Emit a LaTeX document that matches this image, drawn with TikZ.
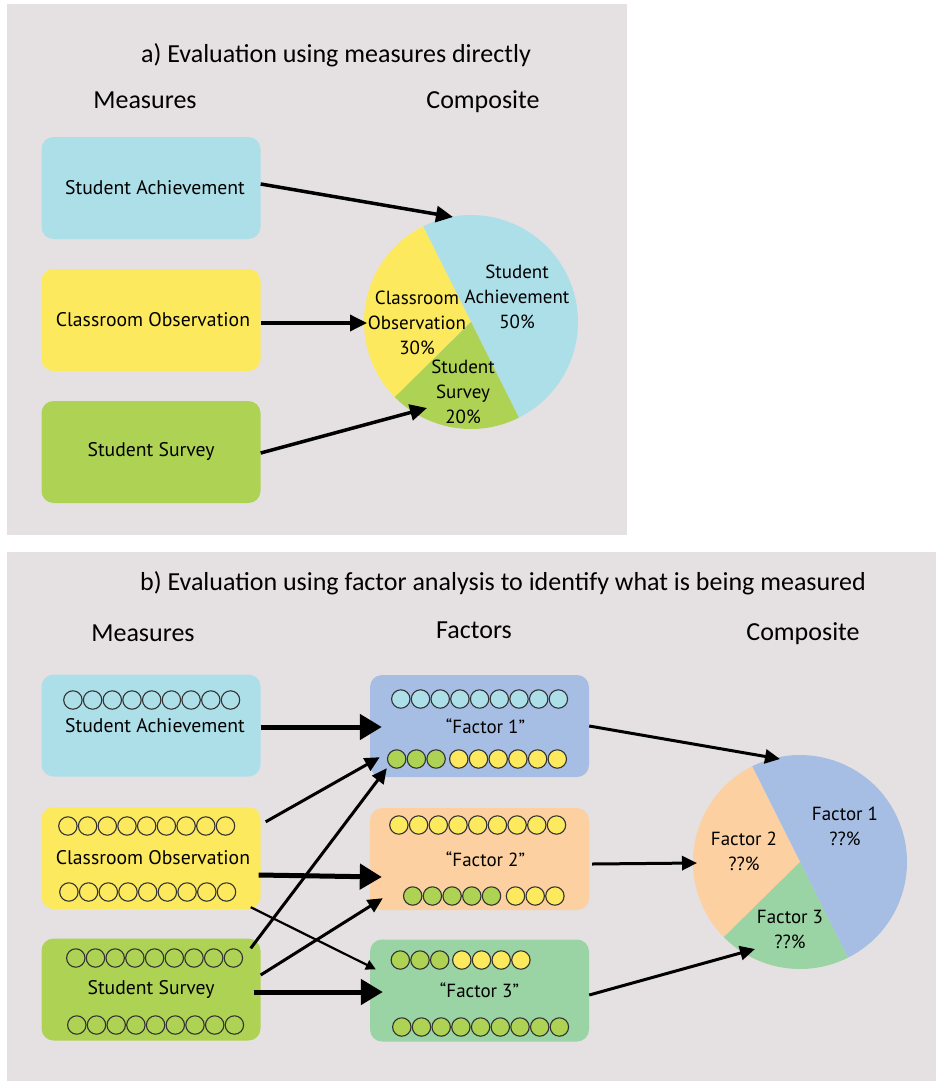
\documentclass[tikz,border=0pt]{standalone}
\usepackage{fontspec}
\setmainfont{PT Sans}
\newfontfamily\headfont{Carlito}
\usetikzlibrary{arrows.meta}

\definecolor{panelbg}{HTML}{E5E1E2}
\definecolor{achblue}{HTML}{ADDFE9}
\definecolor{obsyellow}{HTML}{FCE95D}
\definecolor{survgreen}{HTML}{AED253}
\definecolor{fonecol}{HTML}{A6BEE3}
\definecolor{ftwocol}{HTML}{FCD0A0}
\definecolor{fthreecol}{HTML}{9AD3A4}

% first x, y, how many, fill
\newcommand{\dotrow}[4]{%
  \foreach \k in {1,...,#3}
    \filldraw[dot,fill=#4] ({#1+(\k-1)*19.7},#2) circle[radius=9.2];}

\begin{document}
\begin{tikzpicture}[x=1pt,y=1pt]
  \tikzset{
    measbox/.style={rounded corners=12pt,minimum width=219pt,minimum height=102pt,
      inner sep=0pt,font=\fontsize{19.7}{23}\selectfont},
    factbox/.style={measbox,font=\fontsize{19}{23}\selectfont},
    head/.style={font=\headfont\fontsize{26}{30}\selectfont},
    pielabel/.style={align=center,font=\fontsize{19}{25}\selectfont},
    dot/.style={draw=black!80,line width=1.1pt},
    arr/.style={-{Triangle[length=17pt,width=16pt]},line width=3.5pt},
    fatarr/.style={-{Triangle[length=22pt,width=25pt]},line width=5pt},
    thinarr/.style={-{Triangle[length=15pt,width=14pt]},line width=3pt},
    slimarr/.style={-{Triangle[length=10pt,width=10pt]},line width=2.2pt},
  }
  \useasboundingbox (0,0) rectangle (936,-1081);
  \fill[white] (0,0) rectangle (936,-1081);
  \fill[panelbg] (7,-4) rectangle (627,-535);
  \fill[panelbg] (7,-552) rectangle (936,-1081);

  % a)
  \node[head] (titlea) at (336,-55) {a) Evaluation using measures directly};
  \node[head] (measa) at (145,-100) {Measures};
  \node[head] (compa) at (483,-102) {Composite};

  \node[measbox,fill=achblue]   (sa) at (151,-188) {\hspace{8pt}Student Achievement};
  \node[measbox,fill=obsyellow] (co) at (151,-320) {\hspace{4pt}Classroom Observation};
  \node[measbox,fill=survgreen] (ss) at (151,-452) {Student Survey};

  \coordinate (pa) at (471,-322);
  \fill[achblue] (pa) -- ++(-63.4:107) arc[start angle=-63.4,end angle=116.6,radius=107] -- cycle;
  \fill[obsyellow] (pa) -- ++(116.6:107) arc[start angle=116.6,end angle=224.6,radius=107] -- cycle;
  \fill[survgreen] (pa) -- ++(224.6:107) arc[start angle=224.6,end angle=296.6,radius=107] -- cycle;
  \node[pielabel] (pasa) at (517,-297) {Student\\Achievement\\50\%};
  \node[pielabel] (paco) at (417,-323) {Classroom\\Observation\\30\%};
  \node[pielabel] (pass) at (463,-392) {Student\\Survey\\20\%};

  \coordinate (pa1) at (453,-217);
  \coordinate (pa2) at (367,-323);
  \coordinate (pa3) at (427,-408);
  \draw[arr] ([yshift=4]sa.east) -- (pa1);
  \draw[arr] ([yshift=-3]co.east) -- (pa2);
  \draw[arr] ([yshift=-1]ss.east) -- (pa3);

  % b)
  \node[head] (titleb) at (503,-583) {b) Evaluation using factor analysis to identify what is being measured};
  \node[head] (measb) at (143,-633) {Measures};
  \node[head] (factb) at (474,-630) {Factors};
  \node[head] (compb) at (803,-634) {Composite};

  \node[measbox,fill=achblue]   (bsa) at (151,-725.5) {\raisebox{-3pt}{\hspace{8pt}Student Achievement}};
  \node[measbox,fill=obsyellow] (bco) at (151,-858) {\hspace{4pt}Classroom Observation};
  \node[measbox,fill=survgreen] (bss) at (151,-989.5) {Student Survey};
  \dotrow{72.9}{-700}{9}{none}
  \dotrow{67.9}{-826}{9}{none}
  \dotrow{68.9}{-892}{9}{none}
  \dotrow{75.8}{-958}{9}{none}
  \dotrow{76.8}{-1025}{9}{none}

  \node[factbox,fill=fonecol]   (f1) at (479.5,-726) {\raisebox{-4pt}{\hspace{12pt}“Factor 1”}};
  \node[factbox,fill=ftwocol]   (f2) at (479.5,-859) {\hspace{12pt}“Factor 2”};
  \node[factbox,fill=fthreecol] (f3) at (479.5,-990.5) {“Factor 3”};
  \dotrow{400.8}{-699}{9}{achblue}
  \dotrow{396.7}{-759}{3}{survgreen}
  \dotrow{458.8}{-759}{6}{obsyellow}
  \dotrow{398.9}{-825}{9}{obsyellow}
  \dotrow{412.7}{-896}{5}{survgreen}
  \dotrow{515.5}{-896}{3}{obsyellow}
  \dotrow{400.3}{-960}{3}{survgreen}
  \dotrow{461.8}{-960}{4}{obsyellow}
  \dotrow{401.8}{-1027}{9}{survgreen}

  \coordinate (pb) at (800,-862);
  \fill[fonecol] (pb) -- ++(-63.4:107) arc[start angle=-63.4,end angle=116.6,radius=107] -- cycle;
  \fill[ftwocol] (pb) -- ++(116.6:107) arc[start angle=116.6,end angle=224.6,radius=107] -- cycle;
  \fill[fthreecol] (pb) -- ++(224.6:107) arc[start angle=224.6,end angle=296.6,radius=107] -- cycle;
  \node[pielabel] (pbf1) at (845,-826) {Factor 1\\??\%};
  \node[pielabel] (pbf2) at (744,-851) {Factor 2\\??\%};
  \node[pielabel] (pbf3) at (790,-929) {Factor 3\\??\%};

  \draw[fatarr] ([yshift=-1.5]bsa.east) -- ([xshift=12,yshift=-1]f1.west);
  \draw[thinarr] ([xshift=5,yshift=-15]bco.north east) -- ([xshift=10,yshift=20]f1.south west);
  \draw[thinarr] ([xshift=-10,yshift=-10]bss.north east) -- ([xshift=17,yshift=9]f1.south west);
  \draw[fatarr] ([xshift=-2,yshift=-17]bco.east) -- ([xshift=12,yshift=-18]f2.west);
  \draw[slimarr] ([xshift=-10,yshift=2]bco.south east) -- ([xshift=6,yshift=-30]f3.north west);
  \draw[thinarr] ([yshift=14.5]bss.east) -- ([xshift=13,yshift=12]f2.south west);
  \draw[fatarr] ([xshift=-7,yshift=-2.5]bss.east) -- ([xshift=13,yshift=-1.5]f3.west);

  \coordinate (pb1) at (780,-759);
  \coordinate (pb2) at (697,-863);
  \coordinate (pb3) at (755,-949);
  \draw[thinarr] (f1.east) -- (pb1);
  \draw[thinarr] ([xshift=3,yshift=-5]f2.east) -- (pb2);
  \draw[thinarr] ([yshift=-4.5]f3.east) -- (pb3);
\end{tikzpicture}
\end{document}
